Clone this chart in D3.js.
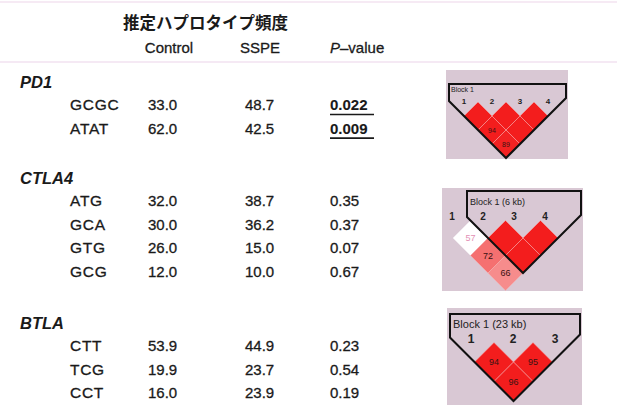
<!DOCTYPE html>
<html><head><meta charset="utf-8">
<script src="https://cdn.jsdelivr.net/npm/d3@7"></script>
<style>
html,body{margin:0;padding:0;background:#fff;}
svg{display:block;}
text{font-family:"Liberation Sans",Arial,sans-serif;fill:#1a1a1a;}
.tb text{stroke:#1a1a1a;stroke-width:0.3px;}
</style></head>
<body>
<svg id="c" width="617" height="412"></svg>
<script>
// ---- data ----
const title = "推定ハプロタイプ頻度";
const columns = ["Control", "SSPE", "P-value"];
const genes = ["PD1", "CTLA4", "BTLA"];
const haplotypes = [["GCGC","ATAT"],["ATG","GCA","GTG","GCG"],["CTT","TCG","CCT"]];
const controlFreq = [["33.0","62.0"],["32.0","30.0","26.0","12.0"],["53.9","19.9","16.0"]];
const sspeFreq = [["48.7","42.5"],["38.7","36.2","15.0","10.0"],["44.9","23.7","23.9"]];
const pValues = [["0.022","0.009"],["0.35","0.37","0.07","0.67"],["0.23","0.54","0.19"]];
const significant = [[true,true],[false,false,false,false],[false,false,false]];
// LD plots: D' (%) per marker pair [i, j, value, lowLOD]
const ldMarkers = [4, 4, 3];
const ldPairs = [
  [[1,2,100,false],[2,3,100,false],[3,4,100,false],[1,3,94,false],[2,4,100,false],[1,4,89,false]],
  [[1,2,57,true],[2,3,100,false],[3,4,100,false],[1,3,72,false],[2,4,100,false],[1,4,66,false]],
  [[1,2,94,false],[2,3,95,false],[1,3,96,false]]
];
const blockRange = [[1,4],[2,4],[1,3]];
const blockLabels = ["Block 1", "Block 1 (6 kb)", "Block 1 (23 kb)"];

// ---- layout ----
const svg = d3.select("#c");
const tb = svg.append("g").attr("class","tb");
const groupY = [82, 178, 323];
const rowStep = 23.6, firstRow = 22.5;
const colX = {hap:70, ctrl:148, sspe:245, p:330};

// faint rules
svg.append("line").attr("x1",0).attr("x2",617).attr("y1",2).attr("y2",2)
  .attr("stroke","#eed6ea").attr("stroke-width",1.2);
svg.append("line").attr("x1",0).attr("x2",617).attr("y1",62).attr("y2",62)
  .attr("stroke","#ecd4ea").attr("stroke-width",1.2);

svg.append("text").attr("x",123).attr("y",29)
  .style("font-family","'Noto Sans CJK JP',sans-serif").style("font-weight","bold")
  .style("font-size","16.5px").text(title);

const hdrY = 53;
tb.append("text").attr("x",169).attr("y",hdrY).attr("text-anchor","middle")
  .style("font-size","15px").text(columns[0]);
tb.append("text").attr("x",260).attr("y",hdrY).attr("text-anchor","middle")
  .style("font-size","15px").text(columns[1]);
const pv = tb.append("text").attr("x",330).attr("y",hdrY).style("font-size","15px");
pv.append("tspan").style("font-style","italic").text(columns[2].slice(0,1));
pv.append("tspan").text("\u2013" + columns[2].slice(2));

genes.forEach((g, gi) => {
  svg.append("text").attr("x",20).attr("y",groupY[gi]+6)
    .style("font-size","16.5px").style("font-weight","bold").style("font-style","italic").text(g);
  const yRow = d3.scaleLinear().domain([0,1]).range([groupY[gi]+firstRow, groupY[gi]+firstRow+rowStep]);
  haplotypes[gi].forEach((h, ri) => {
    const y = yRow(ri) + 5.5;
    tb.append("text").attr("x",colX.hap).attr("y",y).style("font-size","15.5px").style("letter-spacing","0.7px").text(h);
    tb.append("text").attr("x",colX.ctrl).attr("y",y).style("font-size","15px").text(controlFreq[gi][ri]);
    tb.append("text").attr("x",colX.sspe).attr("y",y).style("font-size","15px").text(sspeFreq[gi][ri]);
    const t = tb.append("text").attr("x",colX.p).attr("y",y).style("font-size","15px").text(pValues[gi][ri]);
    if (significant[gi][ri]) {
      t.style("font-weight","bold").style("stroke-width","0.1px");
      svg.append("line").attr("x1",colX.p).attr("x2",colX.p+44).attr("y1",y+4.5).attr("y2",y+4.5)
        .attr("stroke","#1a1a1a").attr("stroke-width",1.7);
    }
  });
});

// ---- LD plots ----
const panels = [
  {bg:[446,70,568,159], x1:464, s:28, rowY:116, top:84, left:449, right:566, numX:464, numS:28, numY:101, numFs:8, blkFs:7, blkX:451, blkY:92, valFs:7},
  {bg:[442,188,583,291], x1:453, s:35, rowY:238, top:191, left:467, right:581, numX:452, numS:31, numY:216, numFs:10, blkFs:9, blkX:470, blkY:205, valFs:9},
  {bg:[447,308,582,405], x1:474.5, s:39, rowY:362, top:314, left:450, right:580, numX:471, numS:42, numY:339, numFs:12, blkFs:11, blkX:453, blkY:328, valFs:9}
];
const ldColor = d3.scaleLinear().domain([0.6, 0.9]).range(["#f7a8a8", "#f31d1d"]).clamp(true);

panels.forEach((p, pi) => {
  const g = svg.append("g");
  g.append("rect").attr("x",p.bg[0]).attr("y",p.bg[1]).attr("width",p.bg[2]-p.bg[0]).attr("height",p.bg[3]-p.bg[1])
    .attr("fill","#d9c8d4");
  const n = ldMarkers[pi];
  const x = d3.scaleLinear().domain([1,n]).range([p.x1, p.x1 + (n-1)*p.s]);
  const xl = d3.scaleLinear().domain([1,n]).range([p.numX, p.numX + (n-1)*p.numS]);
  const h = p.s/2;
  const cy = (i,j) => p.rowY + (j-i-1)*h;
  const cx = (i,j) => (x(i)+x(j))/2;
  ldPairs[pi].forEach(([i,j,v,low]) => {
    const X = cx(i,j), Y = cy(i,j);
    const fill = low ? "#ffffff" : ldColor(v/100);
    g.append("path").attr("d",`M${X},${Y-h}L${X+h},${Y}L${X},${Y+h}L${X-h},${Y}Z`)
      .attr("fill",fill).attr("stroke", low ? "#f4eef2" : "#f7b0b0").attr("stroke-width",0.5);
    if (v < 100) {
      g.append("text").attr("x",X).attr("y",Y+p.valFs*0.36).attr("text-anchor","middle")
        .style("font-size",p.valFs+"px").style("fill", low ? "#e38fb5" : "#3a1212").text(v);
    }
  });
  // marker numbers
  d3.range(1,n+1).forEach(m => {
    g.append("text").attr("x",xl(m)).attr("y",p.numY+p.numFs*0.36).attr("text-anchor","middle")
      .style("font-size",p.numFs+"px").style("font-weight","bold").style("fill","#222").text(m);
  });
  // block outline
  const [b1,b2] = blockRange[pi];
  const yL = p.rowY - (x(b1) - p.left);
  const yR = p.rowY - (p.right - x(b2));
  const bx = cx(b1,b2), by = cy(b1,b2) + h;
  g.append("path").attr("d",`M${p.left},${p.top}L${p.right},${p.top}L${p.right},${yR}L${bx},${by}L${p.left},${yL}Z`)
    .attr("fill","none").attr("stroke","#111").attr("stroke-width",2).attr("stroke-linejoin","miter");
  g.append("text").attr("x",p.blkX).attr("y",p.blkY).style("font-size",p.blkFs+"px")
    .style("fill","#222").text(blockLabels[pi]);
});
</script>
</body></html>
